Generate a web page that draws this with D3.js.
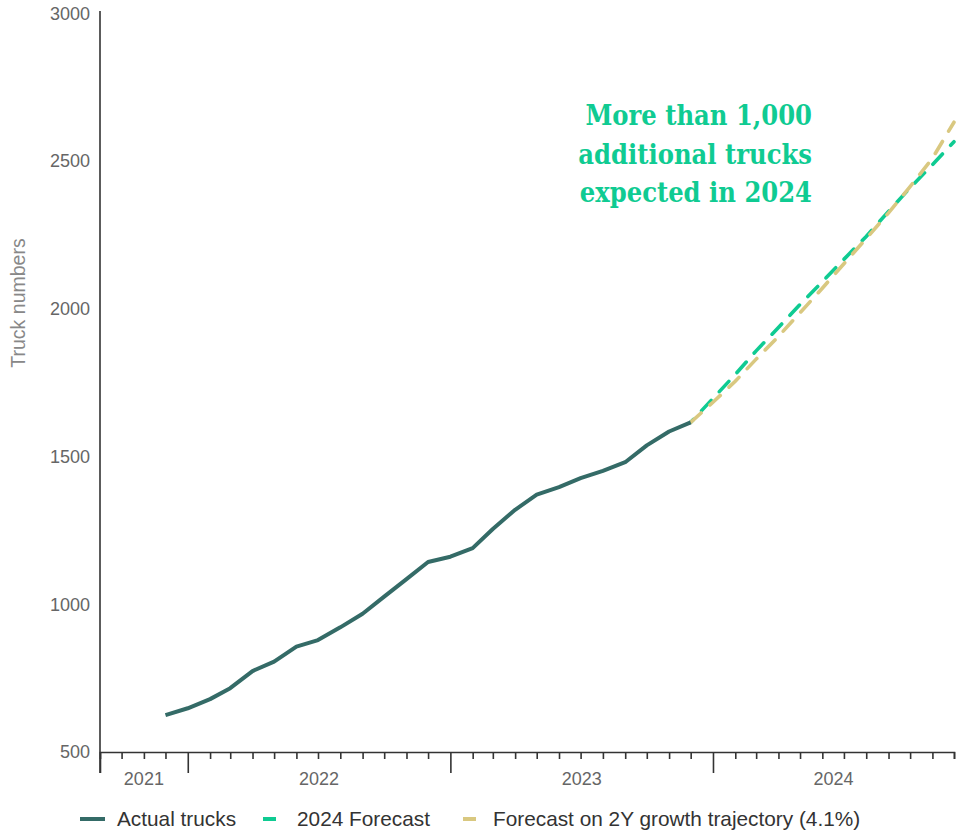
<!DOCTYPE html>
<html>
<head>
<meta charset="utf-8">
<script src="https://cdn.jsdelivr.net/npm/d3@7"></script>
<style>
  html, body { margin: 0; padding: 0; background: #fff; }
  svg { display: block; font-family: "Liberation Sans", Arial, sans-serif; }
</style>
</head>
<body>
<svg id="chart" width="961" height="832"></svg>
<script>
// Monthly truck counts (actuals) and the two 2024 projections.
const actualMonths = ["2021-12","2022-01","2022-02","2022-03","2022-04","2022-05","2022-06","2022-07","2022-08","2022-09","2022-10","2022-11","2022-12","2023-01","2023-02","2023-03","2023-04","2023-05","2023-06","2023-07","2023-08","2023-09","2023-10","2023-11","2023-12"];
const actualTrucks = [625,648,679,716,774,806,857,879,922,968,1026,1085,1143,1161,1190,1255,1320,1371,1397,1427,1452,1481,1538,1585,1616];

const forecastMonths = ["2023-12","2024-01","2024-02","2024-03","2024-04","2024-05","2024-06","2024-07","2024-08","2024-09","2024-10","2024-11","2024-12"];
const forecast2024 = [1616,1697,1778,1858,1937,2015,2092,2168,2245,2330,2410,2488,2566];
const forecastTrend = [1616,1684,1755,1830,1907,1987,2070,2153,2238,2325,2414,2510,2632];

const yTicks = [500,1000,1500,2000,2500,3000];
const yearLabels = ["2021","2022","2023","2024"];
const seriesNames = ["Actual trucks","2024 Forecast","Forecast on 2Y growth trajectory (4.1%)"];
const annotationLines = ["More than 1,000","additional trucks","expected in 2024"];

const colors = { actual: "#346b67", forecast: "#0fcb92", trend: "#d9c880", axis: "#333", tickText: "#666" };

const parseMonth = d3.timeParse("%Y-%m");
const svg = d3.select("#chart");

const x = d3.scaleTime()
  .domain([new Date(2021, 8, 1), new Date(2024, 11, 1)])
  .range([100, 954]);
const y = d3.scaleLinear().domain([500, 3000]).range([752, 13.5]);

// y axis: labels only, plus a vertical rule
svg.append("line")
  .attr("x1", 100).attr("x2", 100).attr("y1", 11).attr("y2", 773)
  .attr("stroke", colors.axis).attr("stroke-width", 1.6);

const yAxis = d3.axisLeft(y).tickValues(yTicks).tickSize(0).tickPadding(10).tickFormat(d3.format("d"));
const gy = svg.append("g").attr("transform", "translate(100,0)").call(yAxis);
gy.select(".domain").remove();
gy.selectAll("text").attr("font-size", 18).attr("fill", colors.tickText)
  .attr("font-family", "'Liberation Sans', Arial, sans-serif");

svg.append("text")
  .attr("transform", "translate(25,303) rotate(-90)")
  .attr("text-anchor", "middle")
  .attr("font-size", 19.5).attr("fill", "#888")
  .text("Truck numbers");

// x axis: monthly ticks, longer at year boundaries
const months = d3.timeMonth.range(x.domain()[0], d3.timeMonth.offset(x.domain()[1], 1));
const xAxis = d3.axisBottom(x).tickValues(months).tickFormat("").tickSizeOuter(0)
  .tickSize(7);
const gx = svg.append("g").attr("transform", "translate(0,752)").call(xAxis);
gx.select(".domain").attr("stroke", colors.axis).attr("stroke-width", 1.6);
gx.selectAll(".tick line")
  .attr("stroke", colors.axis).attr("stroke-width", 1.6)
  .attr("y2", d => (d.getMonth() === 0 || +d === +x.domain()[0]) ? 21 : 7);

yearLabels.forEach(label => {
  const yr = +label;
  const start = d3.max([new Date(yr, 0, 1), x.domain()[0]]);
  const end = d3.min([new Date(yr + 1, 0, 1), x.domain()[1]]);
  svg.append("text")
    .attr("x", (x(start) + x(end)) / 2).attr("y", 785)
    .attr("text-anchor", "middle").attr("font-size", 18).attr("fill", colors.tickText)
    .text(label);
});

// lines
const line = d3.line().x(d => x(d.date)).y(d => y(d.value));
const toPoints = (ms, vs) => ms.map((m, i) => ({ date: parseMonth(m), value: vs[i] }));

svg.append("path").datum(toPoints(forecastMonths, forecast2024))
  .attr("d", line).attr("fill", "none").attr("stroke", colors.forecast)
  .attr("stroke-width", 3.6).attr("stroke-linecap", "round")
  .attr("stroke-dasharray", "14 12").attr("stroke-dashoffset", -16);

svg.append("path").datum(toPoints(forecastMonths, forecastTrend))
  .attr("d", line).attr("fill", "none").attr("stroke", colors.trend)
  .attr("stroke-width", 3.6).attr("stroke-linecap", "round")
  .attr("stroke-dasharray", "14 12");

svg.append("path").datum(toPoints(actualMonths, actualTrucks))
  .attr("d", line).attr("fill", "none").attr("stroke", colors.actual)
  .attr("stroke-width", 4).attr("stroke-linejoin", "round").attr("stroke-linecap", "butt");

// annotation
const ann = svg.append("text")
  .attr("text-anchor", "end")
  .attr("font-family", "'DejaVu Serif Condensed', 'DejaVu Serif', serif")
  .attr("font-stretch", "condensed")
  .attr("font-weight", "bold").attr("font-size", 27).attr("fill", colors.forecast);
annotationLines.forEach((t, i) => {
  ann.append("tspan").attr("x", 812).attr("y", 125 + i * 38.5).text(t);
});

// legend
const legendItems = [
  { name: seriesNames[0], color: colors.actual, x1: 80, x2: 105, tx: 117 },
  { name: seriesNames[1], color: colors.forecast, x1: 263, x2: 276, tx: 297 },
  { name: seriesNames[2], color: colors.trend, x1: 463, x2: 476, tx: 493 }
];
const lg = svg.append("g");
legendItems.forEach(it => {
  lg.append("line").attr("x1", it.x1).attr("x2", it.x2).attr("y1", 819).attr("y2", 819)
    .attr("stroke", it.color).attr("stroke-width", 4);
  lg.append("text").attr("x", it.tx).attr("y", 826).attr("font-size", 20.8).attr("fill", "#333")
    .text(it.name);
});
</script>
</body>
</html>
